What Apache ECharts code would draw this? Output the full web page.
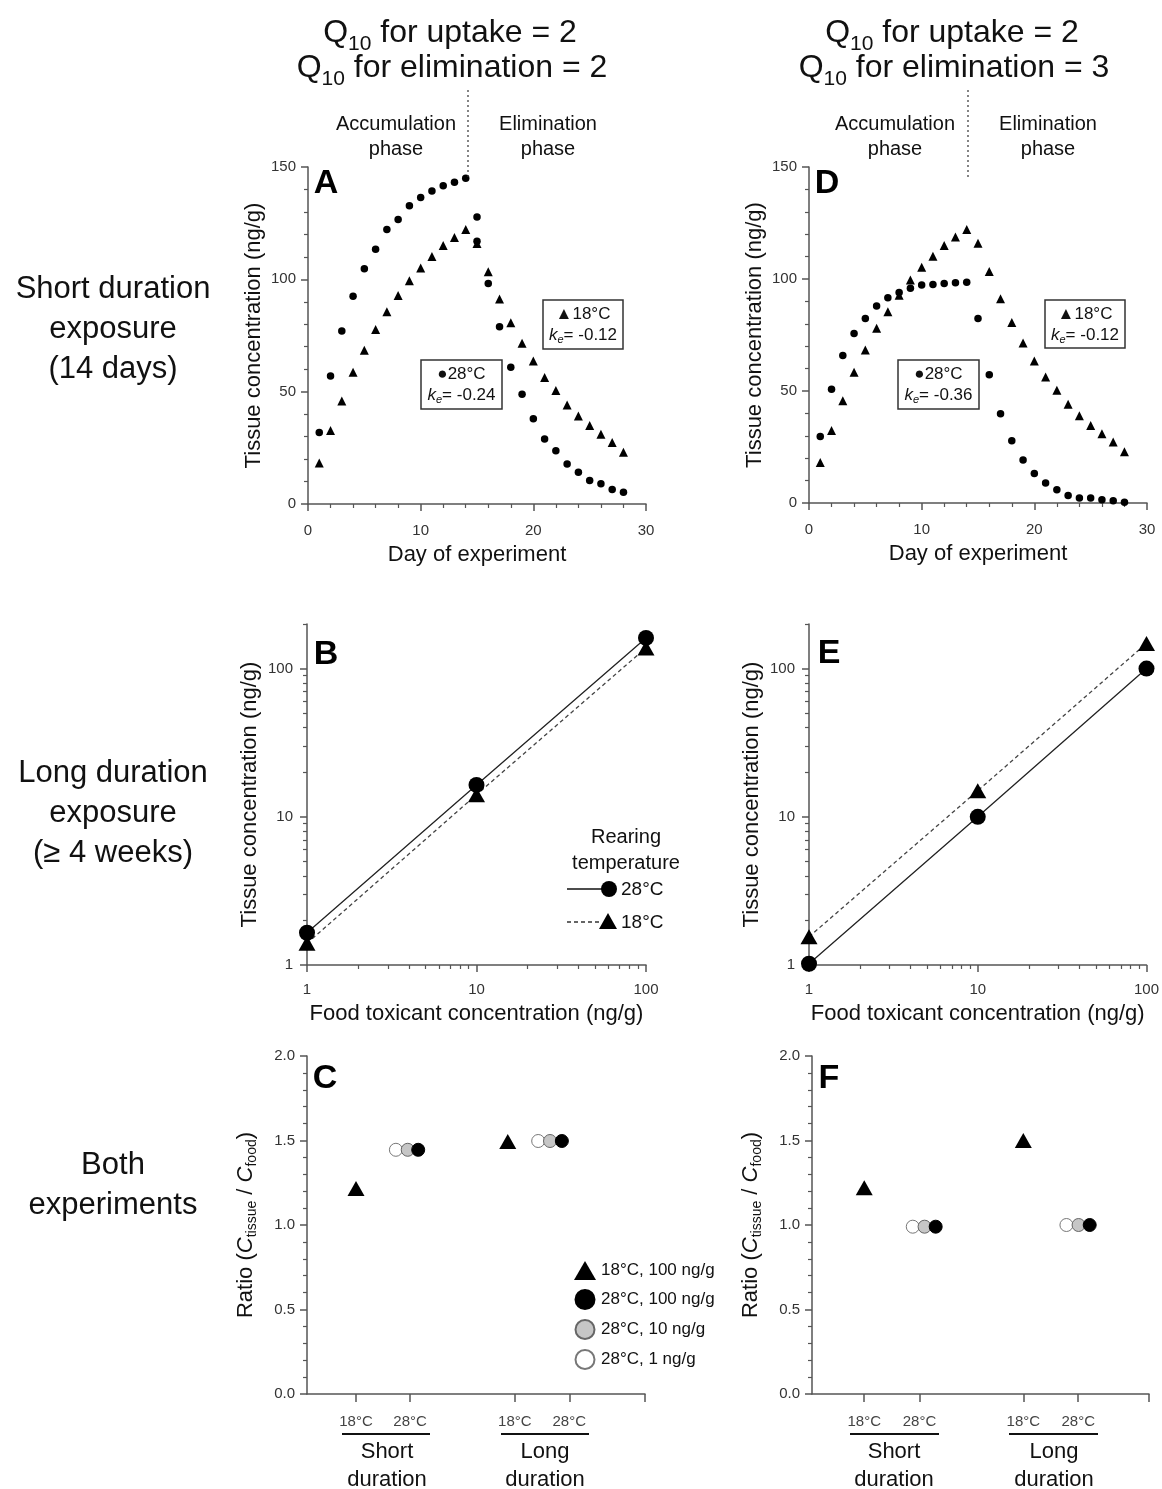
<!DOCTYPE html>
<html>
<head>
<meta charset="utf-8">
<script src="https://cdn.jsdelivr.net/npm/echarts@6/dist/echarts.min.js"></script>
<style>
  html, body { margin: 0; padding: 0; background: #fff; }
  #main { width: 1162px; height: 1489px; }
</style>
</head>
<body>
<div id="main"></div>
<script>
// ---- panel A / D : day of experiment (14 d uptake, 14 d elimination)
const days = [1, 2, 3, 4, 5, 6, 7, 8, 9, 10, 11, 12, 13, 14, 15, 16, 17, 18, 19, 20, 21, 22, 23, 24, 25, 26, 27, 28]
// A, 28 C (day 15 shows two points)
const dayA28 = [1, 2, 3, 4, 5, 6, 7, 8, 9, 10, 11, 12, 13, 14, 15, 15, 16, 17, 18, 19, 20, 21, 22, 23, 24, 25, 26, 27, 28]
const concA28 = [31.8, 57.0, 77.0, 92.5, 104.7, 113.4, 122.2, 126.6, 132.7, 136.4, 139.3, 141.6, 143.2, 145.0,
  127.8, 117.0, 98.2, 78.9, 60.9, 48.9, 37.9, 28.9, 23.7, 17.8, 14.1, 10.5, 9.0, 6.5, 5.2]
const concA18 = [18.2, 32.7, 45.8, 58.6, 68.4, 77.7, 85.6, 92.8, 99.4, 105.0, 110.2, 115.1, 118.6, 122.2,
  116.0, 103.4, 91.2, 80.7, 71.5, 63.7, 56.3, 50.5, 44.1, 39.2, 34.9, 31.1, 27.4, 23.0]
const concD28 = [29.7, 50.8, 65.8, 75.7, 82.4, 87.9, 91.6, 94.0, 95.9, 97.3, 97.6, 98.0, 98.3, 98.6,
  82.4, 57.2, 39.8, 27.8, 19.2, 13.2, 8.9, 5.9, 3.3, 2.2, 2.2, 1.5, 1.0, 0.3]
const concD18 = [18.1, 32.4, 45.7, 58.4, 68.3, 78.0, 85.4, 92.8, 99.5, 105.2, 110.2, 115.0, 118.8, 122.1,
  116.0, 103.4, 91.2, 80.6, 71.4, 63.4, 56.3, 50.3, 44.1, 38.9, 34.6, 30.9, 27.2, 22.9]

// ---- panel B / E : food vs tissue (log-log)
const food = [1, 10, 100]
const tissueB28 = [1.65, 16.4, 161]
const tissueB18 = [1.4, 14.1, 138]
const tissueE28 = [1.02, 10, 100]
const tissueE18 = [1.55, 15, 148]
const logMajor = [1, 10, 100]
const logMinor = [2, 3, 4, 5, 6, 7, 8, 9, 20, 30, 40, 50, 60, 70, 80, 90, 200]

// ---- panel C / F : ratio C_tissue / C_food (short, long duration)
const groupTicksC = [14.5, 30.5, 61.5, 77.6]
const groupTicksF = [15.5, 31.9, 62.7, 79.0]
const groupLabels = ['18°C', '28°C', '18°C', '28°C']
const legendNames = ['18°C, 100 ng/g', '28°C, 100 ng/g', '28°C, 10 ng/g', '28°C, 1 ng/g']
// [short, long]
const posC18 = [14.5, 59.4], ratioC18 = [1.216, 1.494]
const posC28_1 = [26.3, 68.4], ratioC28_1 = [1.445, 1.497]
const posC28_10 = [29.8, 71.9], ratioC28_10 = [1.445, 1.497]
const posC28_100 = [32.9, 75.4], ratioC28_100 = [1.445, 1.497]
const posF18 = [15.5, 62.7], ratioF18 = [1.22, 1.5]
const posF28_1 = [29.9, 75.5], ratioF28_1 = [0.99, 1.0]
const posF28_10 = [33.4, 79.1], ratioF28_10 = [0.99, 1.0]
const posF28_100 = [36.7, 82.4], ratioF28_100 = [0.99, 1.0]

const FONT = 'Liberation Sans, Arial, sans-serif'
const AX = '#555'

function pts(xs, ys) {
  return xs.map((x, i) => [x, ys[i]])
}

let myChart = echarts.init(document.getElementById('main'), null, { renderer: 'canvas' })

const tickLabel = (margin, extra) => Object.assign({ color: '#333', fontSize: 15, fontFamily: FONT, margin: margin }, extra || {})

function baseAxis(grid, extra) {
  return Object.assign({
    gridIndex: grid,
    axisLine: { show: true, onZero: false, lineStyle: { color: AX, width: 1.5 } },
    axisTick: { show: true, length: 7, lineStyle: { color: AX, width: 1.5 } },
    minorTick: { show: true, splitNumber: 5, length: 4, lineStyle: { color: AX, width: 1.2 } },
    axisLabel: tickLabel(12),
    splitLine: { show: false },
    nameTextStyle: { color: '#111', fontSize: 22, fontFamily: FONT },
    nameLocation: 'middle'
  }, extra)
}

function dayAxis(grid) {
  return baseAxis(grid, {
    type: 'value', min: 0, max: 30, interval: 10,
    name: 'Day of experiment', nameGap: 40,
    axisLabel: tickLabel(19)
  })
}
function concAxis(grid) {
  return baseAxis(grid, {
    type: 'value', min: 0, max: 150, interval: 50,
    name: 'Tissue concentration (ng/g)', nameGap: 43, nameRotate: 90
  })
}
function logAxis(grid, max, extra) {
  return baseAxis(grid, Object.assign({
    type: 'log', logBase: 10, min: 1, max: max,
    minorTick: { show: false },
    axisTick: { show: true, length: 7, customValues: logMajor, lineStyle: { color: AX, width: 1.5 } },
    axisLabel: tickLabel(14, { customValues: logMajor })
  }, extra))
}
function logMinorAxis(grid, max) {
  return {
    gridIndex: grid, type: 'log', logBase: 10, min: 1, max: max,
    axisLine: { show: false },
    axisTick: { show: true, length: 4, customValues: logMinor, lineStyle: { color: AX, width: 1.2 } },
    axisLabel: { show: false },
    splitLine: { show: false }
  }
}
function groupAxis(grid, ticks) {
  return baseAxis(grid, {
    type: 'value', min: 0, max: 100,
    minorTick: { show: false },
    axisTick: { show: true, length: 8, customValues: ticks.concat([100]), lineStyle: { color: AX, width: 1.5 } },
    axisLabel: {
      show: true, color: '#444', fontSize: 15, fontFamily: FONT, margin: 20,
      customValues: ticks, hideOverlap: false,
      formatter: function (v) {
        let k = ticks.findIndex(t => Math.abs(t - v) < 0.01)
        return k < 0 ? '' : groupLabels[k]
      }
    }
  })
}
const ratioRich = {
  n: { fontSize: 22, fontFamily: FONT, color: '#111' },
  i: { fontSize: 22, fontFamily: FONT, fontStyle: 'italic', color: '#111' },
  s: { fontSize: 14, fontFamily: FONT, color: '#111', padding: [12, 0, 0, 0] }
}
function ratioAxis(grid) {
  return baseAxis(grid, {
    type: 'value', min: 0, max: 2, interval: 0.5,
    axisLabel: tickLabel(12, { formatter: v => v.toFixed(1) }),
    name: '{n|Ratio (}{i|C}{s|tissue}{n| / }{i|C}{s|food}{n|)}', nameGap: 48, nameRotate: 90,
    nameTextStyle: { rich: ratioRich }
  })
}

function scatter(name, x, y, data, symbol, size, style, z) {
  return {
    name: name, type: 'scatter', xAxisIndex: x, yAxisIndex: y, data: data,
    symbol: symbol, symbolSize: size, itemStyle: Object.assign({ opacity: 1 }, style), z: z || 2,
    emphasis: { disabled: true }
  }
}
const black = { color: '#000' }
const styleOpen = { color: '#fff', borderColor: '#777', borderWidth: 1 }
const styleGray = { color: '#c6c6c6', borderColor: '#666', borderWidth: 1 }
const styleBlack = { color: '#000', borderColor: '#000', borderWidth: 1 }

function lineSeries(x, y, data, symbol, size, dashed) {
  return {
    type: 'line', xAxisIndex: x, yAxisIndex: y, data: data,
    symbol: symbol, symbolSize: size, showSymbol: true,
    itemStyle: { color: '#000', opacity: 1 },
    lineStyle: dashed ? { color: '#444', width: 1.3, type: [4, 3] } : { color: '#222', width: 1.3 },
    emphasis: { disabled: true }
  }
}

// ---- text graphics
function txt(x, y, text, size, extra) {
  return {
    type: 'text', x: x, y: y, z: 10,
    style: Object.assign({
      text: text, fontSize: size, fontFamily: FONT, fill: '#111',
      align: 'center', verticalAlign: 'middle'
    }, extra || {})
  }
}
const titleRich = {
  n: { fontSize: 32, fontFamily: FONT, color: '#111', lineHeight: 36 },
  s: { fontSize: 21, fontFamily: FONT, color: '#111', lineHeight: 36, padding: [22, 0, 0, 0] }
}
function title(x, y, text) {
  return txt(x, y, text, 32, { rich: titleRich })
}
const keRich = {
  n: { fontSize: 17, fontFamily: FONT, color: '#111' },
  i: { fontSize: 17, fontFamily: FONT, fontStyle: 'italic', color: '#111' },
  s: { fontSize: 11, fontFamily: FONT, fontStyle: 'italic', color: '#111', padding: [9, 0, 0, 0] }
}
function keBox(x, y, w, h, sym, temp, ke) {
  return [
    { type: 'rect', z: 9, shape: { x: x, y: y, width: w, height: h }, style: { fill: '#fff', stroke: '#333', lineWidth: 1.5 } },
    txt(x + w / 2, y + 14, sym + temp, 17),
    txt(x + w / 2, y + 35, '{i|k}{s|e}{n|= ' + ke + '}', 17, { rich: keRich })
  ]
}
function phase(xLine, xAcc, xElim) {
  return [
    txt(xAcc, 137, 'Accumulation\nphase', 20, { lineHeight: 25 }),
    txt(xElim, 137, 'Elimination\nphase', 20, { lineHeight: 25 }),
    { type: 'line', z: 10, shape: { x1: xLine, y1: 90, x2: xLine, y2: 178 }, style: { stroke: '#333', lineWidth: 1.2, lineDash: [2, 3] } }
  ]
}
function groupUnder(x1, x2, x3, x4, xs, xl) {
  return [
    { type: 'line', shape: { x1: x1, y1: 1434, x2: x2, y2: 1434 }, style: { stroke: '#111', lineWidth: 1.8 } },
    { type: 'line', shape: { x1: x3, y1: 1434, x2: x4, y2: 1434 }, style: { stroke: '#111', lineWidth: 1.8 } },
    txt(xs, 1466, 'Short\nduration', 22, { lineHeight: 28 }),
    txt(xl, 1466, 'Long\nduration', 22, { lineHeight: 28 })
  ]
}
const letter = (x, y, t) => txt(x, y, t, 34, { fontWeight: 'bold', fill: '#000' })

let graphics = [
  title(450, 33, '{n|Q}{s|10}{n| for uptake = 2}'),
  title(452, 68, '{n|Q}{s|10}{n| for elimination = 2}'),
  title(952, 33, '{n|Q}{s|10}{n| for uptake = 2}'),
  title(954, 68, '{n|Q}{s|10}{n| for elimination = 3}'),
  txt(113, 329, 'Short duration\nexposure\n(14 days)', 31, { lineHeight: 40 }),
  txt(113, 813, 'Long duration\nexposure\n(≥ 4 weeks)', 31, { lineHeight: 40 }),
  txt(113, 1185, 'Both\nexperiments', 31, { lineHeight: 40 }),
  letter(326, 184, 'A'), letter(827, 184, 'D'),
  letter(326, 655, 'B'), letter(829, 654, 'E'),
  letter(325, 1079, 'C'), letter(829, 1079, 'F'),
  // B legend
  txt(626, 850, 'Rearing\ntemperature', 20, { lineHeight: 26 }),
  { type: 'line', z: 10, shape: { x1: 567, y1: 889, x2: 602, y2: 889 }, style: { stroke: '#111', lineWidth: 1.5 } },
  { type: 'circle', z: 10, shape: { cx: 609, cy: 889, r: 8 }, style: { fill: '#000' } },
  txt(621, 890, '28°C', 19, { align: 'left' }),
  { type: 'line', z: 10, shape: { x1: 567, y1: 922, x2: 600, y2: 922 }, style: { stroke: '#333', lineWidth: 1.5, lineDash: [4, 3] } },
  { type: 'polygon', z: 10, shape: { points: [[608, 913], [617, 929], [599, 929]] }, style: { fill: '#000' } },
  txt(621, 923, '18°C', 19, { align: 'left' })
]
graphics = graphics
  .concat(phase(468, 396, 548))
  .concat(phase(968, 895, 1048))
  .concat(keBox(421, 360, 81, 49, '●', '28°C', '-0.24'))
  .concat(keBox(543, 300, 80, 49, '▲', '18°C', '-0.12'))
  .concat(keBox(898, 360, 81, 49, '●', '28°C', '-0.36'))
  .concat(keBox(1045, 300, 80, 48, '▲', '18°C', '-0.12'))
  .concat(groupUnder(342, 430, 501, 589, 387, 545))
  .concat(groupUnder(850, 939, 1009, 1098, 894, 1054))

let option = {
  animation: false,
  backgroundColor: '#fff',
  textStyle: { fontFamily: FONT },
  grid: [
    { left: 308, top: 167, width: 338, height: 337 },   // A
    { left: 809, top: 167, width: 338, height: 336 },   // D
    { left: 307, top: 624, width: 339, height: 341 },   // B
    { left: 809, top: 624, width: 338, height: 341 },   // E
    { left: 307, top: 624, width: 339, height: 341 },   // B minor ticks
    { left: 809, top: 624, width: 338, height: 341 },   // E minor ticks
    { left: 307, top: 1056, width: 338, height: 338 },  // C
    { left: 812, top: 1056, width: 337, height: 338 }   // F
  ],
  xAxis: [
    dayAxis(0), dayAxis(1),
    logAxis(2, 100, { name: 'Food toxicant concentration (ng/g)', nameGap: 38, axisLabel: tickLabel(17, { customValues: logMajor }) }),
    logAxis(3, 100, { name: 'Food toxicant concentration (ng/g)', nameGap: 38, axisLabel: tickLabel(17, { customValues: logMajor }) }),
    logMinorAxis(4, 100), logMinorAxis(5, 100),
    groupAxis(6, groupTicksC), groupAxis(7, groupTicksF)
  ],
  yAxis: [
    concAxis(0), concAxis(1),
    logAxis(2, 200, { name: 'Tissue concentration (ng/g)', nameGap: 46, nameRotate: 90 }),
    logAxis(3, 200, { name: 'Tissue concentration (ng/g)', nameGap: 46, nameRotate: 90 }),
    logMinorAxis(4, 200), logMinorAxis(5, 200),
    ratioAxis(6), ratioAxis(7)
  ],
  legend: {
    orient: 'vertical', left: 569, top: 1256,
    itemWidth: 22, itemHeight: 19, itemGap: 9,
    selectedMode: false,
    textStyle: { fontSize: 17, color: '#111', fontFamily: FONT },
    data: legendNames
  },
  series: [
    scatter('A28', 0, 0, pts(dayA28, concA28), 'circle', 7.5, black),
    scatter('A18', 0, 0, pts(days, concA18), 'triangle', 9, black),
    scatter('D28', 1, 1, pts(days, concD28), 'circle', 7.5, black),
    scatter('D18', 1, 1, pts(days, concD18), 'triangle', 9, black),
    lineSeries(2, 2, pts(food, tissueB18), 'triangle', [17, 15], true),
    lineSeries(2, 2, pts(food, tissueB28), 'circle', 16, false),
    lineSeries(3, 3, pts(food, tissueE18), 'triangle', [17, 15], true),
    lineSeries(3, 3, pts(food, tissueE28), 'circle', 16, false),
    scatter(legendNames[0], 6, 6, pts(posC18, ratioC18), 'triangle', [17, 15], black),
    scatter(legendNames[3], 6, 6, pts(posC28_1, ratioC28_1), 'circle', 13, styleOpen, 2),
    scatter(legendNames[2], 6, 6, pts(posC28_10, ratioC28_10), 'circle', 13, styleGray, 3),
    scatter(legendNames[1], 6, 6, pts(posC28_100, ratioC28_100), 'circle', 13, styleBlack, 4),
    scatter(legendNames[0], 7, 7, pts(posF18, ratioF18), 'triangle', [17, 15], black),
    scatter(legendNames[3], 7, 7, pts(posF28_1, ratioF28_1), 'circle', 13, styleOpen, 2),
    scatter(legendNames[2], 7, 7, pts(posF28_10, ratioF28_10), 'circle', 13, styleGray, 3),
    scatter(legendNames[1], 7, 7, pts(posF28_100, ratioF28_100), 'circle', 13, styleBlack, 4)
  ],
  graphic: graphics
}

myChart.setOption(option)
window.addEventListener('resize', function () {
  myChart.resize()
})
</script>
</body>
</html>
